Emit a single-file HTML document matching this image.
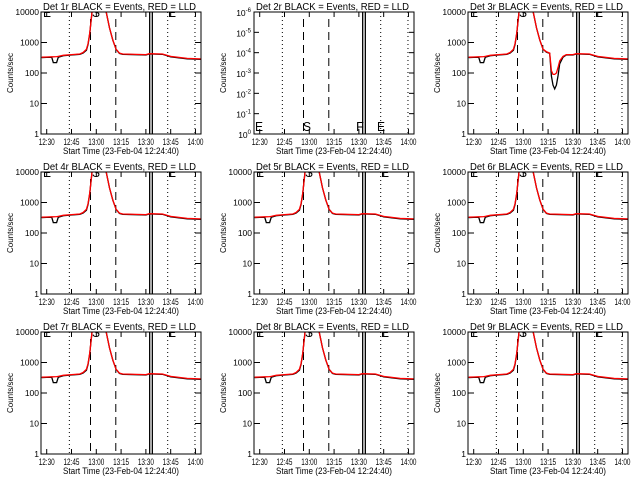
<!DOCTYPE html>
<html><head><meta charset="utf-8"><style>
body{margin:0;background:#fff;width:640px;height:480px;overflow:hidden}
text{font-family:"Liberation Sans",sans-serif;fill:#000}
</style></head><body>
<svg id="chart" width="640" height="480" xmlns="http://www.w3.org/2000/svg"></svg>
<script>
// Shared time grid (minutes after 12:00)
const times = [27,30,33,34,36,37,40,45,50,52,54,55,56,57,58,65,66,68,70,72,74,76,90,92,100,105,115,124];
const redVals = [330,335,340,340,345,350,380,400,420,470,600,900,2000,6000,20000,20000,10000,3000,1200,600,450,420,400,430,420,350,300,290];
const blackVals = [320,325,330,220,220,330,370,390,410,450,560,850,1900,6000,20000,20000,10000,3000,1200,600,440,410,390,420,410,340,290,280];
// Panel 3 dip values
const dipTimes = [74,76,77,78,79,80,81,82,84,86,88];
const dipRed = [500,450,120,90,90,100,150,250,350,400,400];
const dipBlack = [480,440,80,40,30,40,80,200,330,390,390];
const panelNames = ["1r","2r","3r","4r","5r","6r","7r","8r","9r"];
const xTicks = ["12:30","12:45","13:00","13:15","13:30","13:45","14:00"];
const xTickMin = [30,45,60,75,90,105,120];
const yTicks = [1,10,100,1000,10000];
const yTickLabels = ["1","10","100","1000","10000"];
const dashedMin = [56.5,71.8];
const solidMin = [92.3,93.9];
const dottedMin = [43.7,103.2,119.7];

const NS="http://www.w3.org/2000/svg";
const svg=document.getElementById('chart');
function mk(tag,attrs,parent){const e=document.createElementNS(NS,tag);for(const k in attrs)e.setAttribute(k,attrs[k]);(parent||svg).appendChild(e);return e;}

const W=160,H=122;
const lefts=[41,254,468], tops=[12,172,332];
const xOf=(L,m)=>L+5.7+(m-30)*1.653;
const yOf=(T,v)=>T+H-Math.log10(v)*(H/4);

panelNames.forEach((nm,i)=>{
  const L=lefts[i%3],T=tops[Math.floor(i/3)];
  const g=mk('g',{});
  
  
  const cp=mk('clipPath',{id:'cp'+i},g);
  mk('rect',{x:L,y:T,width:W,height:H},cp);
  const t=mk('text',{x:L+2,y:T-2,'font-size':'10',textLength:153,lengthAdjust:'spacingAndGlyphs'},g);
  t.textContent='Det '+nm+' BLACK = Events, RED = LLD';
  
  
  const xl=mk('text',{x:L+22,y:T+H+20,'font-size':'9.5',textLength:116,lengthAdjust:'spacingAndGlyphs'},g);
  xl.textContent='Start Time (23-Feb-04 12:24:40)';
  
  
  const yl=mk('text',{x:0,y:0,'font-size':'8.5',textLength:40,lengthAdjust:'spacingAndGlyphs',transform:`translate(${L-28},${T+H/2+20}) rotate(-90)`},g);
  yl.textContent='Counts/sec';
  
  
  xTicks.forEach((lab,k)=>{
    const x=xOf(L,xTickMin[k]);
    const tt=mk('text',{x:x-8,y:T+H+11,'font-size':'9.5',textLength:16,lengthAdjust:'spacingAndGlyphs'},g);tt.textContent=lab;
    
    
    mk('line',{x1:x,x2:x,y1:T+H,y2:T+H-5,stroke:'#000'},g);
    mk('line',{x1:x,x2:x,y1:T,y2:T+5,stroke:'#000'},g);
  });
  const cg=mk('g',{'clip-path':`url(#cp${i})`},g);
  dottedMin.forEach(m=>{const x=xOf(L,m);mk('line',{x1:x,x2:x,y1:T,y2:T+H,stroke:'#000','stroke-dasharray':'1,3'},cg);});
  dashedMin.forEach(m=>{const x=xOf(L,m);mk('line',{x1:x,x2:x,y1:T+7,y2:T+H,stroke:'#000','stroke-dasharray':'8,5'},cg);});
  solidMin.forEach(m=>{const x=xOf(L,m);mk('line',{x1:x,x2:x,y1:T,y2:T+H,stroke:'#000','stroke-width':1.3},cg);});
  if(i===1){
    const sup=["-6","-5","-4","-3","-2","-1","0"];
    sup.forEach((s,k)=>{const y=T+k*H/6;const tt=mk('text',{x:L-3,y:y+4,'text-anchor':'end','font-size':'8.5'},g);
      tt.innerHTML='10<tspan dy="-4" font-size="6">'+s+'</tspan>';
      
      
      mk('line',{x1:L,x2:L+5,y1:y,y2:y,stroke:'#000'},g);mk('line',{x1:L+W,x2:L+W-5,y1:y,y2:y,stroke:'#000'},g);});
    [[L+1,'E'],[L+49,'S'],[L+102,'F'],[L+123,'E']].forEach(([x,s])=>{
      const tt=mk('text',{x:x,y:T+H-3,'font-size':'13',textLength:8,lengthAdjust:'spacingAndGlyphs'},g);tt.textContent=s;
      
      
    });
  } else {
    yTicks.forEach((v,k)=>{const y=yOf(T,v);const tt=mk('text',{x:L-2,y:y+3,'text-anchor':'end','font-size':'8.5'},g);tt.textContent=yTickLabels[k];
      
      
      mk('line',{x1:L,x2:L+6,y1:y,y2:y,stroke:'#000'},g);mk('line',{x1:L+W,x2:L+W-6,y1:y,y2:y,stroke:'#000'},g);});
    let tr=times.slice(),rv=redVals.slice(),bv=blackVals.slice();
    if(i===2){
      const cut=(arr)=>{const out=[];const ot=[];times.forEach((tm,k)=>{if(tm<74||tm>88){ot.push(tm);out.push(arr[k]);}});return [ot,out];};
      const [t1,r1]=cut(redVals),[,b1]=cut(blackVals);
      const merge=(tA,vA,tB,vB)=>{const p=tA.map((x,k)=>[x,vA[k]]).concat(tB.map((x,k)=>[x,vB[k]]));p.sort((a,b)=>a[0]-b[0]);return p;};
      const pr=merge(t1,r1,dipTimes,dipRed),pb=merge(t1,b1,dipTimes,dipBlack);
      tr=pr.map(p=>p[0]);rv=pr.map(p=>p[1]);bv=pb.map(p=>p[1]);
    }
    const pts=(vals)=>tr.map((m,k)=>xOf(L,m).toFixed(1)+','+yOf(T,vals[k]).toFixed(1)).join(' ');
    const bl=mk('polyline',{points:pts(bv),fill:'none',stroke:'#000','stroke-width':1.3},cg);
    
    
    const rl=mk('polyline',{points:pts(rv),fill:'none',stroke:'#f00','stroke-width':1.3},cg);
    
    
    [[L+2,'E'],[L+51,'S'],[L+127,'E']].forEach(([x,s])=>{
      const tt=mk('text',{x:x,y:T+5,'font-size':'13',textLength:8,lengthAdjust:'spacingAndGlyphs'},cg);tt.textContent=s;
      
      
    });
  }
  mk('rect',{x:L,y:T,width:W,height:H,fill:'none',stroke:'#000','stroke-width':1},g);
});
</script>
</body></html>
